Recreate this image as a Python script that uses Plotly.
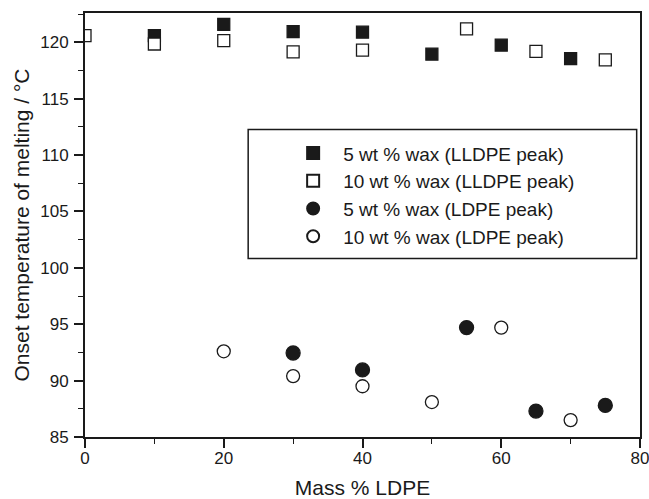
import plotly.graph_objects as go

# Onset melting temperatures (°C) versus LDPE content (mass %)
x_lldpe_5 = [10, 20, 30, 40, 50, 60, 70]
y_lldpe_5 = [120.6, 121.6, 120.95, 120.9, 118.95, 119.75, 118.55]

x_lldpe_10 = [0, 10, 20, 30, 40, 55, 65, 75]
y_lldpe_10 = [120.6, 119.85, 120.15, 119.15, 119.3, 121.2, 119.2, 118.45]

x_ldpe_5 = [30, 40, 55, 65, 75]
y_ldpe_5 = [92.45, 90.95, 94.7, 87.3, 87.8]

x_ldpe_10 = [20, 30, 40, 50, 60, 70]
y_ldpe_10 = [92.6, 90.4, 89.5, 88.1, 94.7, 86.5]

x_ticks = [0, 20, 40, 60, 80]
y_ticks = [85, 90, 95, 100, 105, 110, 115, 120]

INK = "#1a1a1a"
FONT = "Liberation Sans, Arial, sans-serif"

series = [
    ("5 wt % wax (LLDPE peak)", x_lldpe_5, y_lldpe_5, "square", INK, 12),
    ("10 wt % wax (LLDPE peak)", x_lldpe_10, y_lldpe_10, "square", "white", 12),
    ("5 wt % wax (LDPE peak)", x_ldpe_5, y_ldpe_5, "circle", INK, 14),
    ("10 wt % wax (LDPE peak)", x_ldpe_10, y_ldpe_10, "circle", "white", 13),
]

fig = go.Figure()
for name, xs, ys, sym, fill, size in series:
    fig.add_trace(go.Scatter(
        x=xs, y=ys, mode="markers", name=name,
        marker=dict(symbol=sym, size=size, color=fill,
                    line=dict(color=INK, width=1.3)),
    ))

axis_common = dict(
    showgrid=False, zeroline=False, automargin=False,
    showline=True, linecolor=INK, linewidth=2, mirror=True,
    ticks="outside", ticklen=9, tickwidth=1.5, tickcolor=INK,
    ticklabeloverflow="allow",
    tickfont=dict(family=FONT, size=17, color=INK),
)

fig.update_xaxes(
    range=[0, 80], tickvals=x_ticks,
    minor=dict(dtick=10, ticks="outside", ticklen=5, tickwidth=1.2, tickcolor=INK),
    ticklabelstandoff=-4,
    title=dict(text="Mass % LDPE", font=dict(family=FONT, size=21, color=INK), standoff=21),
    **axis_common,
)
fig.update_yaxes(
    range=[85, 122.6], tickvals=y_ticks,
    minor=dict(dtick=2.5, ticks="outside", ticklen=5, tickwidth=1.2, tickcolor=INK),
    ticklabelstandoff=2,
    title=dict(text="Onset temperature of melting / °C",
               font=dict(family=FONT, size=21, color=INK), standoff=5),
    **axis_common,
)

# Legend frame
fig.add_shape(type="rect", xref="paper", yref="paper",
              x0=0.294, x1=0.994, y0=0.421, y1=0.725,
              line=dict(color=INK, width=1.5), fillcolor="rgba(0,0,0,0)")

fig.update_layout(
    width=649, height=499,
    margin=dict(l=85, r=9, t=13, b=62),
    paper_bgcolor="white", plot_bgcolor="white",
    font=dict(family=FONT, color=INK),
    legend=dict(x=0.357, y=0.714, xanchor="left", yanchor="top",
                bgcolor="rgba(0,0,0,0)", borderwidth=0,
                itemwidth=50, itemsizing="constant",
                font=dict(family=FONT, size=19, color=INK)),
    showlegend=True,
)

fig.write_html("out.html")
